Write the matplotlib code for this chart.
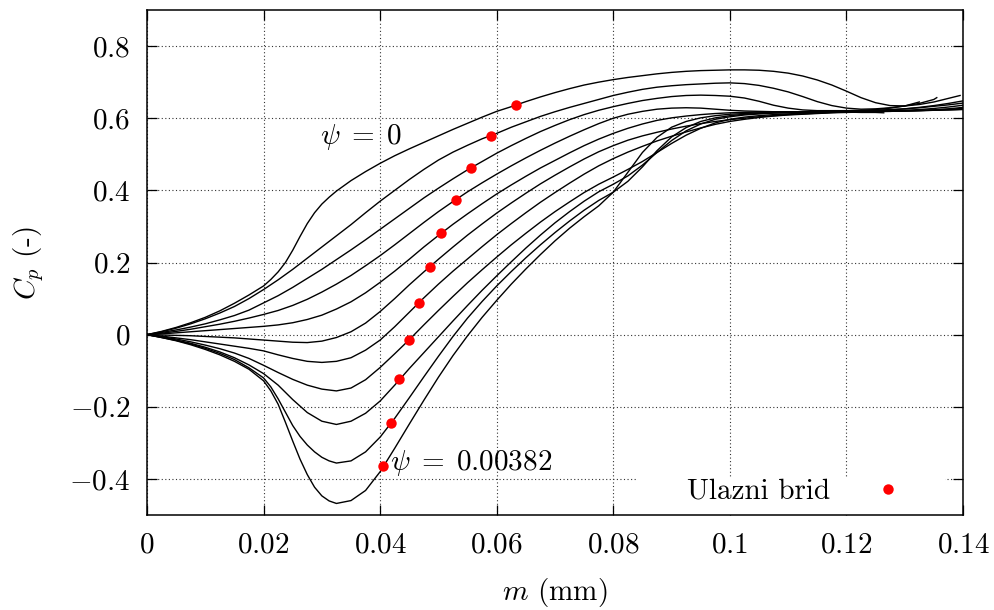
import matplotlib
matplotlib.use('Agg')
import matplotlib.pyplot as plt
from matplotlib.patches import Rectangle

plt.rcParams['mathtext.fontset'] = 'cm'
plt.rcParams['font.family'] = ['cmr10', 'DejaVu Serif']
plt.rcParams['axes.unicode_minus'] = True

# ---- data ----
m_grid = [0, 0.0025, 0.005, 0.0075, 0.01, 0.0125, 0.015, 0.0175, 0.02, 0.0225,
          0.025, 0.0275, 0.03, 0.0325, 0.035, 0.0375, 0.04, 0.0425, 0.045, 0.0475,
          0.05, 0.0525, 0.055, 0.0575, 0.06, 0.0625, 0.065, 0.0675, 0.07, 0.0725,
          0.075, 0.0775, 0.08, 0.0825, 0.085, 0.0875, 0.09, 0.0925, 0.095, 0.0975,
          0.1, 0.1025, 0.105, 0.1075, 0.11, 0.1125, 0.115, 0.1175, 0.12, 0.1225,
          0.125, 0.1275, 0.13, 0.1325, 0.135, 0.1375, 0.14]

# finer sampling of the sharp bend between m = 0.02 and 0.0325
m_bend = [0.02, 0.02125, 0.0225, 0.02375, 0.025, 0.02625, 0.0275, 0.02875, 0.03, 0.03125]

c1_m = m_grid[:8] + m_bend + m_grid[13:56] + [0.1395]
c1_cp = [0, 0.009, 0.020, 0.033, 0.048, 0.066, 0.087, 0.110,
         0.135, 0.153, 0.174, 0.200, 0.234, 0.272, 0.308, 0.338, 0.362, 0.381,
         0.398, 0.427, 0.452, 0.475, 0.496, 0.515, 0.533,
         0.551, 0.569, 0.586, 0.603, 0.619, 0.632, 0.646, 0.659, 0.671, 0.682,
         0.692, 0.700, 0.707, 0.713, 0.718, 0.723, 0.727, 0.730, 0.732, 0.733,
         0.734, 0.734, 0.733, 0.730, 0.725, 0.717, 0.706, 0.692, 0.675, 0.657,
         0.643, 0.635, 0.634, 0.638, 0.645, 0.655, 0.663]

c2_m = m_grid[:55] + [0.1355]
c2_cp = [0, 0.008, 0.018, 0.030, 0.044, 0.060, 0.078, 0.100, 0.125, 0.152,
         0.181, 0.212, 0.243, 0.274, 0.305, 0.338, 0.370, 0.400, 0.430, 0.458,
         0.484, 0.506, 0.525, 0.543, 0.558, 0.575, 0.590, 0.605, 0.618, 0.630,
         0.641, 0.652, 0.663, 0.672, 0.680, 0.686, 0.690, 0.693, 0.695, 0.697,
         0.698, 0.696, 0.691, 0.683, 0.673, 0.660, 0.646, 0.635, 0.628, 0.625,
         0.626, 0.629, 0.634, 0.641, 0.652, 0.657]

c3_m = m_grid[:54]
c3_cp = [0, 0.006, 0.013, 0.021, 0.030, 0.041, 0.053, 0.068, 0.088, 0.108,
         0.131, 0.156, 0.181, 0.208, 0.235, 0.263, 0.292, 0.321, 0.350, 0.379,
         0.406, 0.432, 0.457, 0.480, 0.503, 0.524, 0.544, 0.563, 0.580, 0.596,
         0.610, 0.622, 0.632, 0.641, 0.649, 0.655, 0.660, 0.663, 0.664, 0.663,
         0.661, 0.656, 0.647, 0.636, 0.628, 0.623, 0.621, 0.621, 0.621, 0.622,
         0.624, 0.628, 0.634, 0.645]

c4_m = m_grid
c4_cp = [0, 0.004, 0.009, 0.015, 0.022, 0.029, 0.037, 0.046, 0.056, 0.067,
         0.081, 0.098, 0.118, 0.140, 0.164, 0.191, 0.219, 0.249, 0.280, 0.311,
         0.341, 0.369, 0.396, 0.421, 0.445, 0.468, 0.490, 0.511, 0.531, 0.550,
         0.568, 0.585, 0.600, 0.611, 0.619, 0.625, 0.628, 0.629, 0.628, 0.625,
         0.622, 0.620, 0.619, 0.618, 0.618, 0.618, 0.618, 0.619, 0.619, 0.620,
         0.621, 0.623, 0.626, 0.630, 0.635, 0.641, 0.648]

c5_m = m_grid
c5_cp = [0, 0.002, 0.005, 0.008, 0.011, 0.014, 0.017, 0.020, 0.023, 0.027,
         0.033, 0.042, 0.054, 0.071, 0.091, 0.116, 0.145, 0.176, 0.209, 0.243,
         0.275, 0.306, 0.335, 0.363, 0.390, 0.415, 0.439, 0.462, 0.483, 0.504,
         0.524, 0.542, 0.558, 0.572, 0.584, 0.594, 0.601, 0.606, 0.610, 0.613,
         0.615, 0.616, 0.617, 0.617, 0.618, 0.618, 0.619, 0.619, 0.620, 0.621,
         0.622, 0.624, 0.626, 0.629, 0.633, 0.637, 0.642]

c6_m = m_grid
c6_cp = [0, -0.001, -0.002, -0.003, -0.005, -0.007, -0.009, -0.012, -0.015, -0.018,
         -0.021, -0.022, -0.018, -0.008, 0.008, 0.032, 0.064, 0.100, 0.138, 0.174,
         0.209, 0.243, 0.276, 0.307, 0.337, 0.365, 0.392, 0.418, 0.442, 0.465,
         0.487, 0.507, 0.524, 0.539, 0.551, 0.561, 0.570, 0.578, 0.585, 0.591,
         0.596, 0.600, 0.604, 0.607, 0.610, 0.612, 0.614, 0.616, 0.617, 0.618,
         0.619, 0.620, 0.622, 0.624, 0.627, 0.631, 0.636]

c7_m = m_grid
c7_cp = [0, -0.004, -0.009, -0.014, -0.020, -0.026, -0.032, -0.038, -0.045, -0.056,
         -0.066, -0.074, -0.077, -0.074, -0.064, -0.043, -0.015, 0.022, 0.062, 0.102,
         0.140, 0.176, 0.210, 0.244, 0.277, 0.308, 0.338, 0.367, 0.394, 0.420,
         0.445, 0.468, 0.488, 0.506, 0.522, 0.537, 0.550, 0.562, 0.573, 0.583,
         0.591, 0.597, 0.602, 0.606, 0.609, 0.611, 0.613, 0.615, 0.616, 0.617,
         0.618, 0.619, 0.620, 0.621, 0.623, 0.626, 0.630]

c8_m = m_grid
c8_cp = [0, -0.006, -0.012, -0.020, -0.029, -0.039, -0.051, -0.066, -0.085, -0.105,
         -0.124, -0.140, -0.151, -0.156, -0.148, -0.125, -0.091, -0.053, -0.014, 0.027,
         0.067, 0.106, 0.144, 0.180, 0.215, 0.249, 0.281, 0.312, 0.341, 0.368,
         0.394, 0.417, 0.437, 0.458, 0.480, 0.505, 0.530, 0.553, 0.572, 0.587,
         0.597, 0.603, 0.607, 0.610, 0.612, 0.614, 0.615, 0.616, 0.617, 0.618,
         0.619, 0.620, 0.621, 0.622, 0.623, 0.625, 0.627]

c9_m = m_grid
c9_cp = [0, -0.007, -0.015, -0.024, -0.035, -0.048, -0.064, -0.084, -0.108, -0.140,
         -0.180, -0.216, -0.240, -0.249, -0.240, -0.218, -0.184, -0.140, -0.094, -0.050,
         -0.006, 0.038, 0.081, 0.123, 0.163, 0.202, 0.240, 0.276, 0.310, 0.341,
         0.370, 0.396, 0.417, 0.440, 0.470, 0.505, 0.538, 0.565, 0.584, 0.597,
         0.604, 0.609, 0.612, 0.614, 0.615, 0.616, 0.617, 0.617, 0.618, 0.618,
         0.619, 0.619, 0.620, 0.621, 0.622, 0.623, 0.624]

c10_m = m_grid[:8] + m_bend + m_grid[13:]
c10_cp = [0, -0.008, -0.016, -0.026, -0.038, -0.052, -0.069, -0.092,
          -0.120, -0.145, -0.178, -0.215, -0.252, -0.282, -0.306, -0.325, -0.340, -0.350,
          -0.356, -0.350, -0.325, -0.284, -0.232, -0.175, -0.117,
          -0.060, -0.005, 0.046, 0.092, 0.135, 0.175, 0.213, 0.249, 0.283, 0.315,
          0.345, 0.372, 0.395, 0.425, 0.465, 0.510, 0.548, 0.574, 0.591, 0.601,
          0.607, 0.611, 0.613, 0.615, 0.616, 0.617, 0.617, 0.618, 0.618, 0.619,
          0.619, 0.620, 0.620, 0.621, 0.622, 0.623, 0.625]

c11_m = m_grid[:8] + m_bend + m_grid[13:51] + [0.1264]
c11_cp = [0, -0.008, -0.017, -0.028, -0.041, -0.056, -0.074, -0.096,
          -0.128, -0.156, -0.193, -0.243, -0.295, -0.345, -0.388, -0.423, -0.447, -0.461,
          -0.468, -0.460, -0.432, -0.380, -0.315, -0.248, -0.182,
          -0.118, -0.058, -0.003, 0.048, 0.095, 0.140, 0.182, 0.222, 0.260, 0.295,
          0.327, 0.357, 0.395, 0.450, 0.505, 0.547, 0.575, 0.591, 0.601, 0.607,
          0.611, 0.613, 0.615, 0.616, 0.617, 0.617, 0.617, 0.617, 0.617, 0.616,
          0.616, 0.615]

le_m = [0.0633, 0.0590, 0.0556, 0.0530, 0.0505, 0.0485, 0.0466, 0.0449, 0.0433, 0.0418, 0.0405]
le_cp = [0.6375, 0.551, 0.463, 0.374, 0.281, 0.188, 0.088, -0.015, -0.124, -0.244, -0.365]

x_ticks = [0, 0.02, 0.04, 0.06, 0.08, 0.10, 0.12, 0.14]
x_labels = ['0', '0.02', '0.04', '0.06', '0.08', '0.1', '0.12', '0.14']
y_ticks = [-0.4, -0.2, 0, 0.2, 0.4, 0.6, 0.8]
y_labels = ['-0.4', '-0.2', '0', '0.2', '0.4', '0.6', '0.8']

curves = [(c1_m, c1_cp), (c2_m, c2_cp), (c3_m, c3_cp), (c4_m, c4_cp), (c5_m, c5_cp), (c6_m, c6_cp),
          (c7_m, c7_cp), (c8_m, c8_cp), (c9_m, c9_cp), (c10_m, c10_cp), (c11_m, c11_cp)]

# ---- figure ----
fig = plt.figure(figsize=(9.95, 6.1), dpi=100)
ax = fig.add_axes([147 / 995, 1 - 515 / 610, 816 / 995, 505 / 610])

for m, cp in curves:
    ax.plot(m, cp, color='black', lw=1.0, zorder=3, solid_joinstyle='round')

ax.plot(le_m, le_cp, 'o', color='#ff0000', ms=7.5, mec='none', zorder=5, label='Ulazni brid')

ax.set_xlim(0, 0.14)
ax.set_ylim(-0.5, 0.9)
ax.set_xticks(x_ticks)
ax.set_xticklabels(['$%s$' % s for s in x_labels])
ax.set_yticks(y_ticks)
ax.set_yticklabels(['$%s$' % s for s in y_labels])
ax.tick_params(direction='in', top=True, right=True, length=7, width=0.9, labelsize=21)
ax.tick_params(axis='x', pad=12)
ax.tick_params(axis='y', pad=12)
for sp in ax.spines.values():
    sp.set_linewidth(1.1)

ax.grid(True, color='0.2', linestyle=(0, (1, 2.2)), lw=0.8)

ax.add_patch(Rectangle((0.6005, 0.0), 0.3775, 0.0752, transform=ax.transAxes,
                       facecolor='white', edgecolor='none', zorder=2))

ax.text(0.0297, 0.549, r'$\psi\;=\;0$', fontsize=21, va='center', ha='left', zorder=4)
ax.text(0.0417, -0.357, r'$\psi\;=\;0.00382$', fontsize=21, va='center', ha='left', zorder=4)

ax.set_xlabel(r'$m$ (mm)', fontsize=21, labelpad=13)
ax.set_ylabel(r'$C_p$ (-)', fontsize=21, labelpad=17)

leg = ax.legend(loc='lower right', bbox_to_anchor=(0.978, 0.0), markerfirst=False, frameon=False,
                fontsize=21, handlelength=3.2, handletextpad=0.4, borderpad=0.35, borderaxespad=0.0)

fig.savefig('out.png', dpi=100)
